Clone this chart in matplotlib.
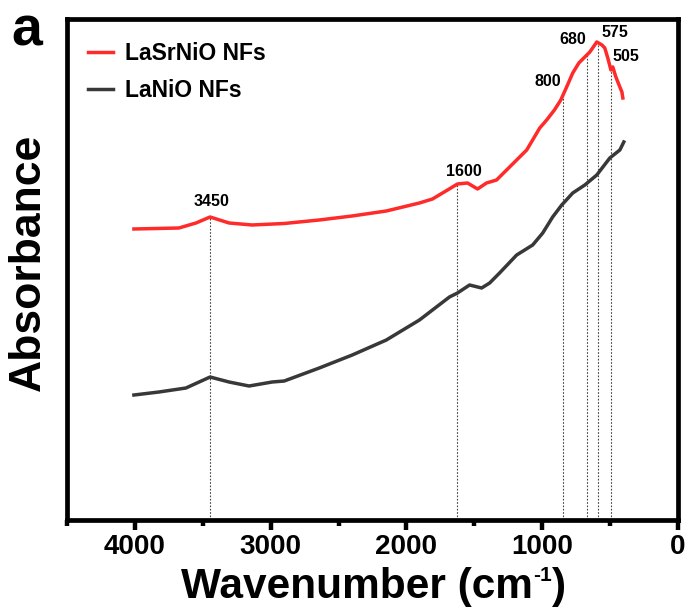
import numpy as np
import matplotlib
matplotlib.use("Agg")
import matplotlib.pyplot as plt
from matplotlib.ticker import MultipleLocator

# FTIR spectra (wavenumber in cm-1, absorbance in a.u.)
wn_lasrnio = [4007, 3675, 3550, 3446, 3306, 3137, 2900, 2642, 2400, 2148, 1904, 1808, 1697,
              1624, 1550, 1476, 1410, 1336, 1262, 1188, 1114, 1018, 967, 910, 863, 820, 775,
              730, 686, 649, 598, 560, 539, 517, 494, 480, 460, 443, 413, 406]
ab_lasrnio = [0.582, 0.584, 0.594, 0.606, 0.594, 0.590, 0.593, 0.600, 0.608, 0.618, 0.634, 0.642, 0.660,
              0.672, 0.674, 0.662, 0.674, 0.680, 0.700, 0.720, 0.740, 0.784, 0.800, 0.820, 0.840, 0.866, 0.894,
              0.914, 0.926, 0.936, 0.956, 0.950, 0.944, 0.924, 0.900, 0.906, 0.888, 0.876, 0.856, 0.844]

wn_lanio = [4007, 3823, 3624, 3446, 3306, 3159, 2989, 2900, 2642, 2399, 2148, 1904, 1808, 1683,
            1624, 1535, 1446, 1387, 1314, 1188, 1070, 996, 923, 856, 775, 686, 598, 502, 428, 399]
ab_lanio = [0.250, 0.256, 0.264, 0.286, 0.276, 0.268, 0.276, 0.278, 0.304, 0.330, 0.360, 0.400, 0.420, 0.446,
            0.454, 0.470, 0.464, 0.474, 0.494, 0.530, 0.550, 0.574, 0.606, 0.630, 0.654, 0.670, 0.690, 0.724, 0.740, 0.756]

peak_pos = [3446, 1630, 845, 672, 590, 494]
peak_labels = ['3450', '1600', '800', '680', '575', '505']
label_offsets = [(1, 6), (5, 4), (-11, 4), (-10, 6), (12, 2), (11, 4)]  # points

plt.rcParams['font.family'] = ['Liberation Sans', 'DejaVu Sans']
plt.rcParams['font.weight'] = 'bold'

fig = plt.figure(figsize=(6.89, 6.08), dpi=100)
ax = fig.add_axes([0.0972, 0.1447, 0.8868, 0.8241])

ax.plot(wn_lasrnio, ab_lasrnio, color='#ff2a2a', lw=2.5, label='LaSrNiO NFs')
ax.plot(wn_lanio, ab_lanio, color='#383838', lw=2.5, label='LaNiO NFs')

# dotted guide lines from the red curve down to the axis
wn_sorted = np.array(wn_lasrnio)[::-1]
ab_sorted = np.array(ab_lasrnio)[::-1]
for pos, lab, off in zip(peak_pos, peak_labels, label_offsets):
    top = np.interp(pos, wn_sorted, ab_sorted)
    ax.plot([pos, pos], [0, top], color='#444444', lw=0.8, ls=(0, (1.5, 1.5)), zorder=1)
    ax.annotate(lab, (pos, top), xytext=off, textcoords='offset points',
                ha='center', va='bottom', fontsize=11.5, fontweight='bold')

ax.set_xlim(4500, 0)
ax.set_ylim(0, 1.002)
ax.set_yticks([])
ax.xaxis.set_major_locator(MultipleLocator(1000))
ax.xaxis.set_minor_locator(MultipleLocator(500))
ax.tick_params(axis='x', which='major', direction='out', length=7, width=3.2, labelsize=20, pad=3)
ax.tick_params(axis='x', which='minor', direction='out', length=4, width=3.2)
for s in ax.spines.values():
    s.set_linewidth(3.4)
for t in ax.get_xticklabels():
    t.set_fontweight('bold')

# x label built in pieces so the superscript stays small
xl = fig.text(0.263, 0.016, 'Wavenumber (cm', fontsize=30.5, fontweight='bold', va='baseline')
sup = ax.annotate('-1', xy=(1.0, 1.04), xycoords=xl, ha='left', va='top',
                  fontsize=15, fontweight='bold', annotation_clip=False)
ax.annotate(')', xy=(1.0, 0.0), xycoords=(sup, xl), ha='left', va='bottom',
            fontsize=30.5, fontweight='bold', annotation_clip=False)

ax.set_ylabel('Absorbance', fontsize=32, fontweight='bold')
ax.yaxis.set_label_coords(-0.03, 0.515, transform=ax.transAxes)

leg = ax.legend(loc='upper left', bbox_to_anchor=(0.0, 0.995), frameon=False, fontsize=16.5,
                handlelength=1.1, handletextpad=0.55, labelspacing=0.6, borderaxespad=0.5)
for t in leg.get_texts():
    t.set_fontweight('bold')

fig.text(0.017, 0.925, 'a', fontsize=40, fontweight='bold')

fig.savefig('out.png', dpi=100)
